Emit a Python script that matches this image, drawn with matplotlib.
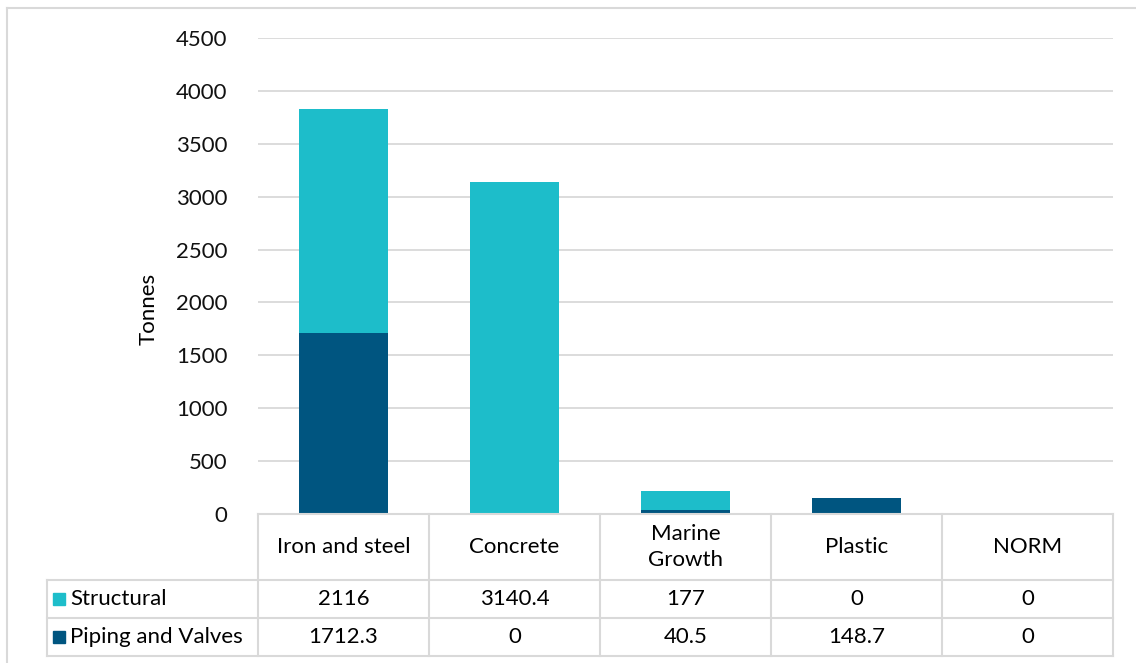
import matplotlib.pyplot as plt
from matplotlib.patches import Rectangle
from matplotlib.lines import Line2D

categories = ["Iron and steel", "Concrete", "Marine\nGrowth", "Plastic", "NORM"]
structural = [2116, 3140.4, 177, 0, 0]
piping = [1712.3, 0, 40.5, 148.7, 0]
structural_labels = ["2116", "3140.4", "177", "0", "0"]
piping_labels = ["1712.3", "0", "40.5", "148.7", "0"]

c_struct = "#1DBDCA"
c_pipe = "#005580"
grid_c = "#D9D9D9"

plt.rcParams["font.family"] = ["Lato", "DejaVu Sans"]

W, H = 1136, 663
fig = plt.figure(figsize=(W / 100, H / 100), dpi=100)

# pixel positions of plot area
px_left, px_right, px_top, px_bottom = 258, 1113, 38, 514
ax = fig.add_axes([px_left / W, 1 - px_bottom / H,
                   (px_right - px_left) / W, (px_bottom - px_top) / H])

x = list(range(len(categories)))
ax.bar(x, piping, width=0.515, color=c_pipe, zorder=3)
ax.bar(x, structural, width=0.515, bottom=piping, color=c_struct, zorder=3)

ax.set_xlim(-0.5, len(categories) - 0.5)
ax.set_ylim(0, 4500)
ax.set_yticks(range(0, 4501, 500))
ax.yaxis.grid(True, color=grid_c, lw=1.3, zorder=0)
ax.set_xticks([])
for s in ax.spines.values():
    s.set_visible(False)
ax.tick_params(axis="y", length=0, pad=22, labelsize=16, labelcolor="#111111")
ax.set_ylabel("Tonnes", fontsize=16, labelpad=0)
ax.yaxis.set_label_coords(-0.116, 0.43)

# overlay in pixel coordinates for the data table
ov = fig.add_axes([0, 0, 1, 1], zorder=5)
ov.set_xlim(0, W)
ov.set_ylim(H, 0)
ov.axis("off")
ov.patch.set_alpha(0)

# figure border (top and left)
ov.add_line(Line2D([7, W + 5], [8, 8], color=grid_c, lw=1.5))
ov.add_line(Line2D([7, 7], [8, H + 5], color=grid_c, lw=1.5))

col_w = (px_right - px_left) / len(categories)
rows = [514, 580, 618, 656]
tl = 47
for xv in [px_left + i * col_w for i in range(len(categories) + 1)]:
    ov.add_line(Line2D([xv, xv], [rows[0], rows[3]], color=grid_c, lw=1.5))
ov.add_line(Line2D([px_left, px_right], [rows[0], rows[0]], color=grid_c, lw=1.5))
for yv in rows[1:]:
    ov.add_line(Line2D([tl, px_right], [yv, yv], color=grid_c, lw=1.5))
ov.add_line(Line2D([tl, tl], [rows[1], rows[3]], color=grid_c, lw=1.5))

fs = 16
for i, cat in enumerate(categories):
    cx = px_left + (i + 0.5) * col_w
    ov.text(cx, (rows[0] + rows[1]) / 2, cat, ha="center", va="center",
            fontsize=fs, linespacing=1.4)
    ov.text(cx, (rows[1] + rows[2]) / 2, structural_labels[i], ha="center",
            va="center", fontsize=fs)
    ov.text(cx, (rows[2] + rows[3]) / 2, piping_labels[i], ha="center",
            va="center", fontsize=fs)

for r, (name, col) in enumerate([("Structural", c_struct), ("Piping and Valves", c_pipe)]):
    cy = (rows[r + 1] + rows[r + 2]) / 2
    ov.add_patch(Rectangle((53, cy - 6), 12, 12, color=col))
    ov.text(70, cy, name, ha="left", va="center", fontsize=fs)

fig.savefig("out.png", dpi=100)
